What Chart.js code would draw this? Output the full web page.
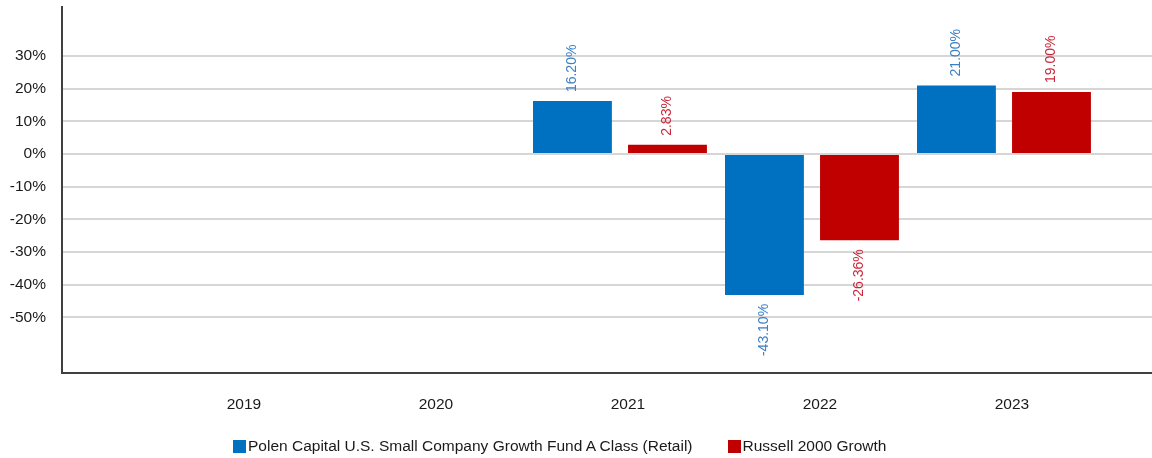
<!DOCTYPE html>
<html>
<head>
<meta charset="utf-8">
<script src="https://cdn.jsdelivr.net/npm/chart.js@4/dist/chart.umd.min.js"></script>
<style>
  body { margin: 0; background: #fff; }
  #wrap { position: relative; width: 1152px; height: 458px; }
  #legend {
    position: absolute; left: 233px; top: 437px;
    display: flex; align-items: center;
    font: 15.5px 'Liberation Sans', Arial, sans-serif; color: #1a1a1a;
  }
  #legend .item { display: flex; align-items: center; margin-right: 35px; }
  #legend .box { width: 13px; height: 13px; margin-right: 2px; }
</style>
</head>
<body>
<div id="wrap">
  <canvas id="canvas" width="1152" height="458"></canvas>
  <div id="legend"></div>
</div>
<script>
const years = [2019, 2020, 2021, 2022, 2023];
const fundReturns = [null, null, 16.20, -43.10, 21.00];
const benchReturns = [null, null, 2.83, -26.36, 19.00];
const yTicks = [-50, -40, -30, -20, -10, 0, 10, 20, 30];
const seriesNames = ['Polen Capital U.S. Small Company Growth Fund A Class (Retail)', 'Russell 2000 Growth'];
const seriesColors = ['#0070C0', '#C00000'];

const font = "'Liberation Sans', Arial, sans-serif";

function points(vals) {
    return years.map((y, i) => ({ x: y, y: vals[i] }));
}

// rotated value labels above / below each bar
const barLabels = {
    id: 'barLabels',
    afterDatasetsDraw(chart) {
        const ctx = chart.ctx;
        chart.data.datasets.forEach((ds, di) => {
            const meta = chart.getDatasetMeta(di);
            meta.data.forEach((bar, i) => {
                const v = ds.data[i].y;
                if (v === null) return;
                ctx.save();
                ctx.font = '14px ' + font;
                ctx.fillStyle = ds.labelColor;
                ctx.textBaseline = 'middle';
                if (v >= 0) {
                    ctx.translate(bar.x, bar.y - 9);
                    ctx.rotate(-Math.PI / 2);
                    ctx.textAlign = 'left';
                } else {
                    ctx.translate(bar.x, bar.y + 9);
                    ctx.rotate(-Math.PI / 2);
                    ctx.textAlign = 'right';
                }
                ctx.fillText(v.toFixed(2) + '%', 0, 0);
                ctx.restore();
            });
        });
    }
};

const ctx = document.getElementById('canvas').getContext('2d');
const myChart = new Chart(ctx, {
    type: 'bar',
    data: {
        datasets: [{
            label: seriesNames[0],
            data: points(fundReturns),
            backgroundColor: seriesColors[0],
            labelColor: '#3b7fc6'
        }, {
            label: seriesNames[1],
            data: points(benchReturns),
            backgroundColor: seriesColors[1],
            labelColor: '#c8283a'
        }]
    },
    options: {
        responsive: false,
        animation: false,
        categoryPercentage: 0.99,
        barPercentage: 0.83,
        layout: { padding: { top: 7, right: 0, bottom: 40, left: 0 } },
        plugins: {
            legend: { display: false },
            tooltip: { enabled: false }
        },
        scales: {
            x: {
                type: 'linear',
                offset: false,
                min: 2018.094,
                max: 2023.771,
                afterBuildTicks: (s) => { s.ticks = years.map(v => ({ value: v })); },
                afterFit: (s) => {
                    s.height = 45;
                    s.paddingLeft = 0;
                    s.paddingRight = 0;
                },
                grid: { display: false, drawTicks: false },
                border: { display: true, color: '#404040', width: 2 },
                ticks: {
                    autoSkip: false,
                    maxRotation: 0,
                    padding: 22,
                    labelOffset: 8,
                    color: '#1a1a1a',
                    font: { family: font, size: 15.5 },
                    callback: (v) => String(v)
                }
            },
            y: {
                min: -67,
                max: 45,
                afterBuildTicks: (s) => { s.ticks = yTicks.map(v => ({ value: v })); },
                afterFit: (s) => {
                    s.width = 62;
                    s.paddingTop = 0;
                    s.paddingBottom = 0;
                },
                grid: { color: '#d6d6d6', lineWidth: 2, drawTicks: false },
                border: { display: true, color: '#404040', width: 2 },
                ticks: {
                    padding: 16,
                    color: '#1a1a1a',
                    font: { family: font, size: 15.5 },
                    callback: (v) => v + '%'
                }
            }
        }
    },
    plugins: [barLabels]
});

// html legend built from the datasets
const legend = document.getElementById('legend');
myChart.data.datasets.forEach((ds) => {
    const item = document.createElement('div');
    item.className = 'item';
    const box = document.createElement('span');
    box.className = 'box';
    box.style.background = ds.backgroundColor;
    const txt = document.createElement('span');
    txt.textContent = ds.label;
    item.appendChild(box);
    item.appendChild(txt);
    legend.appendChild(item);
});
</script>
</body>
</html>
